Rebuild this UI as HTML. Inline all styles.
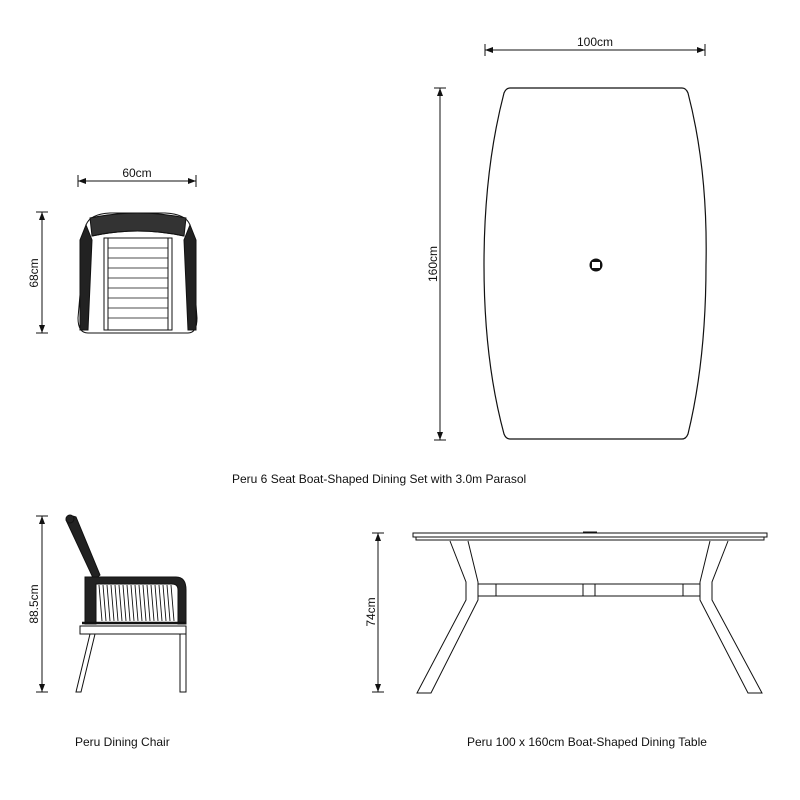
<!DOCTYPE html>
<html><head><meta charset="utf-8"><style>
body{margin:0;background:#fff}
svg{display:block}
text{font-family:"Liberation Sans",sans-serif;font-size:12px;fill:#111}
</style></head><body>
<svg width="800" height="800" viewBox="0 0 800 800" xmlns="http://www.w3.org/2000/svg">
<defs>
<marker id="a" markerWidth="8" markerHeight="6" refX="8" refY="3" orient="auto-start-reverse" markerUnits="userSpaceOnUse"><path d="M0,0 L8,3 L0,6 z" fill="#111"/></marker>
</defs>
<g stroke="#111" fill="none" stroke-width="1">
<line x1="485" y1="50" x2="705" y2="50" marker-start="url(#a)" marker-end="url(#a)"/>
<line x1="485" y1="44" x2="485" y2="56"/><line x1="705" y1="44" x2="705" y2="56"/>
<line x1="440" y1="88" x2="440" y2="440" marker-start="url(#a)" marker-end="url(#a)"/>
<line x1="434" y1="88" x2="446" y2="88"/><line x1="434" y1="440" x2="446" y2="440"/>
<line x1="78" y1="181" x2="196" y2="181" marker-start="url(#a)" marker-end="url(#a)"/>
<line x1="78" y1="175" x2="78" y2="187"/><line x1="196" y1="175" x2="196" y2="187"/>
<line x1="42" y1="212" x2="42" y2="333" marker-start="url(#a)" marker-end="url(#a)"/>
<line x1="36" y1="212" x2="48" y2="212"/><line x1="36" y1="333" x2="48" y2="333"/>
<line x1="42" y1="516" x2="42" y2="692" marker-start="url(#a)" marker-end="url(#a)"/>
<line x1="36" y1="516" x2="48" y2="516"/><line x1="36" y1="692" x2="48" y2="692"/>
<line x1="378" y1="533" x2="378" y2="692" marker-start="url(#a)" marker-end="url(#a)"/>
<line x1="372" y1="533" x2="384" y2="533"/><line x1="372" y1="692" x2="384" y2="692"/>
<path d="M510,88 L682,88 Q686,88 688,93 Q708,170 706,265 Q706,360 688,434 Q686,439 682,439 L510,439 Q506,439 504,434 Q484,360 484,265 Q484,170 504,93 Q506,88 510,88 Z" stroke-width="1.2"/>
<circle cx="596" cy="265" r="6" fill="#111"/>
<rect x="592" y="262" width="8" height="6" fill="#fff" stroke="none"/>
<path d="M86,225 Q90,214 110,213 L165,213 Q186,214 190,225 L197,318 Q197,333 188,333 L88,333 Q78,333 78,318 Z" stroke-width="1"/>
<path d="M80,240 L86,225 L92,240 L88,330 L80,330 Z M196,240 L190,225 L184,240 L188,330 L196,330 Z" fill="#222"/>
<path d="M90,218 Q137,208 186,218 L184,236 Q137,226 92,236 Z" fill="#333"/>
<path d="M92,236 Q137,226 184,236" stroke-width="1"/>
<rect x="104" y="238" width="68" height="92"/>
<rect x="108" y="238" width="60" height="92"/>
<g stroke-width="0.8">
<line x1="108" y1="248" x2="168" y2="248"/><line x1="108" y1="258" x2="168" y2="258"/>
<line x1="108" y1="268" x2="168" y2="268"/><line x1="108" y1="278" x2="168" y2="278"/>
<line x1="108" y1="288" x2="168" y2="288"/><line x1="108" y1="298" x2="168" y2="298"/>
<line x1="108" y1="308" x2="168" y2="308"/><line x1="108" y1="318" x2="168" y2="318"/>
</g>
<path d="M66,520 Q68,514 76,517 L100,575 L94,580 Z" fill="#222"/>
<circle cx="70" cy="519" r="4" fill="#222"/>
<path d="M85,577 L176,577 Q186,577 186,590 L186,624 L178,624 L178,590 Q178,584 172,584 L96,584 L96,624 L85,624 Z" fill="#222"/>
<g stroke-width="0.9">
<line x1="99" y1="585" x2="102" y2="621"/><line x1="103" y1="585" x2="106" y2="621"/>
<line x1="107" y1="585" x2="110" y2="621"/><line x1="111" y1="585" x2="114" y2="621"/>
<line x1="115" y1="585" x2="118" y2="621"/><line x1="119" y1="585" x2="122" y2="621"/>
<line x1="123" y1="585" x2="126" y2="621"/><line x1="127" y1="585" x2="130" y2="621"/>
<line x1="131" y1="585" x2="134" y2="621"/><line x1="135" y1="585" x2="138" y2="621"/>
<line x1="139" y1="585" x2="142" y2="621"/><line x1="143" y1="585" x2="146" y2="621"/>
<line x1="147" y1="585" x2="150" y2="621"/><line x1="151" y1="585" x2="154" y2="621"/>
<line x1="155" y1="585" x2="158" y2="621"/><line x1="159" y1="585" x2="162" y2="621"/>
<line x1="163" y1="585" x2="166" y2="621"/><line x1="167" y1="585" x2="170" y2="621"/>
<line x1="171" y1="585" x2="174" y2="621"/>
</g>
<line x1="82" y1="623" x2="186" y2="623" stroke-width="2.5"/>
<rect x="80" y="626" width="106" height="8"/>
<path d="M90,634 L76,692 L81,692 L95,634"/>
<path d="M180,634 L180,692 L186,692 L186,634"/>
<rect x="413" y="533" width="354" height="4"/>
<rect x="416" y="537" width="348" height="3"/>
<line x1="583" y1="532" x2="597" y2="532"/>
<path d="M450,541 L466,582 L466,600 L417,693 L431,693 L478,600 L478,582 L468,541"/>
<path d="M728,541 L712,582 L712,600 L762,693 L748,693 L700,600 L700,582 L710,541"/>
<rect x="478" y="584" width="222" height="12"/>
<line x1="496" y1="584" x2="496" y2="596"/><line x1="583" y1="584" x2="583" y2="596"/>
<line x1="595" y1="584" x2="595" y2="596"/><line x1="683" y1="584" x2="683" y2="596"/>
</g>
<text x="595" y="46" text-anchor="middle">100cm</text>
<text x="137" y="177" text-anchor="middle">60cm</text>
<text transform="translate(437,264) rotate(-90)" text-anchor="middle">160cm</text>
<text transform="translate(38,273) rotate(-90)" text-anchor="middle">68cm</text>
<text transform="translate(38,604) rotate(-90)" text-anchor="middle">88.5cm</text>
<text transform="translate(375,612) rotate(-90)" text-anchor="middle">74cm</text>
<text x="232" y="483">Peru 6 Seat Boat-Shaped Dining Set with 3.0m Parasol</text>
<text x="75" y="746">Peru Dining Chair</text>
<text x="467" y="746">Peru 100 x 160cm Boat-Shaped Dining Table</text>
</svg>
</body></html>
